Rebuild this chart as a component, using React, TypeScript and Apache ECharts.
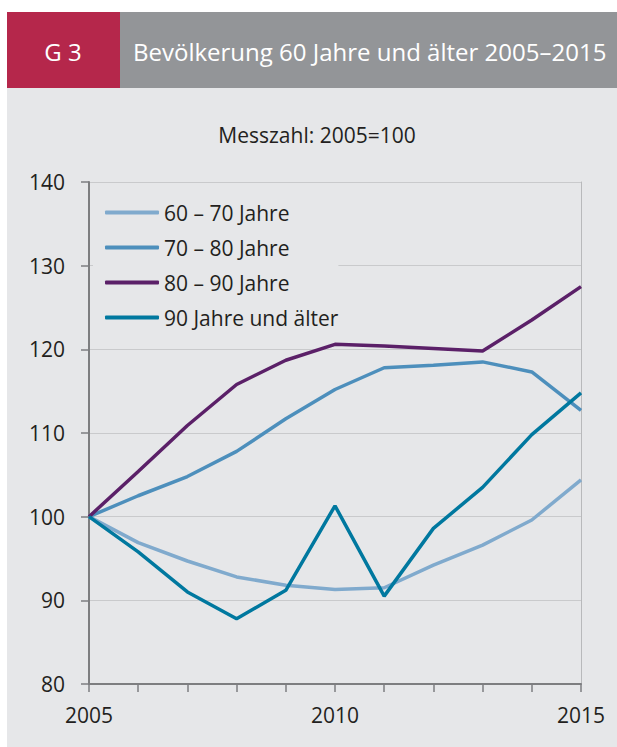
import React, { useEffect, useRef } from "react";
import * as echarts from "echarts";

const years = [2005, 2006, 2007, 2008, 2009, 2010, 2011, 2012, 2013, 2014, 2015];
const seriesNames = ["60 – 70 Jahre", "70 – 80 Jahre", "80 – 90 Jahre", "90 Jahre und älter"];
const v60_70 = [100, 96.9, 94.7, 92.8, 91.8, 91.3, 91.5, 94.2, 96.6, 99.6, 104.4];
const v70_80 = [100, 102.5, 104.8, 107.8, 111.7, 115.2, 117.8, 118.1, 118.5, 117.3, 112.7];
const v80_90 = [100, 105.4, 110.9, 115.8, 118.7, 120.6, 120.4, 120.1, 119.8, 123.5, 127.5];
const v90plus = [100, 95.8, 91.0, 87.8, 91.2, 101.3, 90.5, 98.6, 103.5, 109.8, 114.8];
const yTicks = [80, 90, 100, 110, 120, 130, 140];
const xLabelYears = [2005, 2010, 2015];

const colors = ["#80aacd", "#4d8fbc", "#5b2068", "#00789f"];
const FONT = "'Open Sans', 'Noto Sans', sans-serif";

export default function App() {
  const ref = useRef<HTMLDivElement>(null);
  useEffect(() => {
    if (!ref.current) return;
    const chart = echarts.init(ref.current, null, { renderer: "svg" });
    const all = [v60_70, v70_80, v80_90, v90plus];
    chart.setOption({
      animation: false,
      backgroundColor: "#ffffff",
      textStyle: { fontFamily: FONT },
      graphic: [
        { type: "rect", shape: { x: 7, y: 88, width: 610, height: 659 }, style: { fill: "#e6e7e9" }, z: -10 },
        { type: "rect", shape: { x: 7, y: 12, width: 113, height: 76 }, style: { fill: "#b5274b" }, z: -10 },
        { type: "rect", shape: { x: 120, y: 12, width: 497, height: 76 }, style: { fill: "#939598" }, z: -10 },
        { type: "text", x: 63, y: 51, style: { text: "G 3", fill: "#ffffff", font: `24px ${FONT}`, align: "center", verticalAlign: "middle" } },
        { type: "text", x: 133, y: 51, style: { text: "Bevölkerung 60 Jahre und älter 2005–2015", fill: "#ffffff", font: `24px ${FONT}`, align: "left", verticalAlign: "middle" } },
        { type: "text", x: 317, y: 135, style: { text: "Messzahl: 2005=100", fill: "#231f20", font: `21px ${FONT}`, align: "center", verticalAlign: "middle" } },
      ],
      grid: { left: 89, right: 36, top: 182, bottom: 63, containLabel: false },
      legend: {
        orient: "vertical",
        left: 93,
        top: 190,
        padding: [12, 0, 12, 12],
        backgroundColor: "#e6e7e9",
        icon: "roundRect",
        itemWidth: 54,
        itemHeight: 4,
        itemGap: 14,
        itemTextGap: 11,
        itemStyle: { borderWidth: 0 },
        textStyle: { fontSize: 21, color: "#231f20", lineHeight: 20, fontFamily: FONT },
        data: seriesNames,
      },
      xAxis: {
        type: "value",
        min: 2005,
        max: 2015,
        interval: 1,
        axisLine: { show: true, lineStyle: { color: "#7d7e80", width: 2 } },
        axisTick: { show: true, length: 8, lineStyle: { color: "#7d7e80", width: 1.5 } },
        axisLabel: {
          margin: 20,
          fontSize: 21,
          color: "#231f20",
          formatter: (v: number) => (xLabelYears.includes(v) ? String(v) : ""),
        },
        splitLine: { show: false },
      },
      yAxis: [
        {
          type: "value",
          min: yTicks[0],
          max: yTicks[yTicks.length - 1],
          interval: 10,
          axisLine: { show: true, lineStyle: { color: "#7d7e80", width: 2 } },
          axisTick: { show: true, length: 8, lineStyle: { color: "#7d7e80", width: 1.5 } },
          axisLabel: { margin: 24, fontSize: 21, color: "#231f20" },
          splitLine: { show: true, lineStyle: { color: "#c9cacc", width: 1 } },
        },
        {
          type: "value",
          position: "right",
          min: yTicks[0],
          max: yTicks[yTicks.length - 1],
          interval: 10,
          axisLine: { show: true, lineStyle: { color: "#b8b9bb", width: 1 } },
          axisTick: { show: false },
          axisLabel: { show: false },
          splitLine: { show: false },
        },
      ],
      series: seriesNames.map((name, i) => ({
        name,
        type: "line",
        data: years.map((y, j) => [y, all[i][j]]),
        symbol: "none",
        lineStyle: { color: colors[i], width: 3.5 },
        itemStyle: { color: colors[i] },
        z: 2 + i,
      })),
    });
    return () => chart.dispose();
  }, []);
  return <div ref={ref} style={{ position: "fixed", left: 0, top: 0, width: 617, height: 747 }} />;
}
